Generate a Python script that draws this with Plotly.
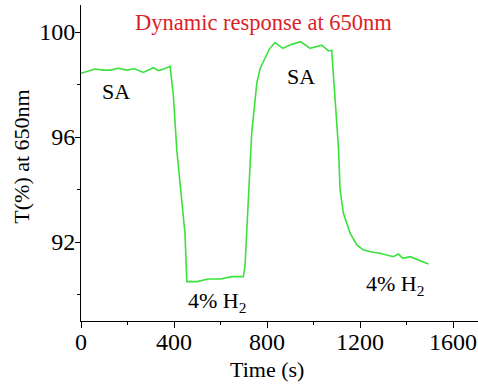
import plotly.graph_objects as go

time_s = [0, 30, 60, 95, 125, 160, 196, 230, 268, 311, 333, 360, 383, 397, 412, 433, 447, 455,
          500, 546, 600, 648, 698, 705, 720, 734, 756, 770, 791, 810, 834, 868, 906, 945, 985,
          1035, 1064, 1078, 1092, 1107, 1114, 1128, 1157, 1186, 1214, 1250, 1286, 1343, 1365,
          1384, 1415, 1444, 1494]
trans = [98.43, 98.50, 98.59, 98.55, 98.55, 98.62, 98.55, 98.60, 98.46, 98.64, 98.53, 98.60, 98.70,
         97.60, 95.50, 93.60, 92.34, 90.49,
         90.49, 90.59, 90.59, 90.68, 90.68, 91.06, 93.60, 96.15, 98.06, 98.60, 99.00, 99.35, 99.60,
         99.38, 99.53, 99.63, 99.38, 99.50, 99.28, 99.31, 97.50, 95.60, 94.00, 93.10, 92.34, 91.89,
         91.70, 91.62, 91.57, 91.44, 91.54, 91.38, 91.44, 91.34, 91.16]

label_text = ["SA", "SA", "4% H<sub>2</sub>", "4% H<sub>2</sub>"]
label_x = [150, 946, 585, 1348]
label_y = [97.75, 98.32, 89.72, 90.38]

FONT = "Liberation Serif, Times New Roman, serif"

fig = go.Figure()
fig.add_trace(go.Scatter(x=time_s, y=trans, mode="lines",
                         line=dict(color="rgb(60,225,60)", width=1.6),
                         showlegend=False, hoverinfo="skip"))

for t, x, y in zip(label_text, label_x, label_y):
    fig.add_annotation(x=x, y=y, text=t, showarrow=False, xref="x", yref="y",
                       xanchor="center", yanchor="middle",
                       font=dict(family=FONT, size=22, color="black"))

fig.add_annotation(x=0.459, y=0.946, xref="paper", yref="paper", text="Dynamic response at 650nm",
                   showarrow=False, font=dict(family=FONT, size=22.5, color="rgb(220,30,40)"),
                   yanchor="middle", xanchor="center")
fig.add_annotation(x=-0.1486, y=0.52, xref="paper", yref="paper", text="T(%) at 650nm",
                   textangle=-90, showarrow=False, xanchor="center", yanchor="middle",
                   font=dict(family=FONT, size=22, color="black"))
fig.add_annotation(x=0.469, y=-0.155, xref="paper", yref="paper", text="Time (s)",
                   showarrow=False, xanchor="center", yanchor="middle",
                   font=dict(family=FONT, size=22, color="black"))

fig.update_layout(
    width=478, height=392,
    margin=dict(l=81, r=0, t=5, b=71, autoexpand=False),
    plot_bgcolor="white", paper_bgcolor="white",
    font=dict(family=FONT, size=22, color="black"),
)
fig.update_xaxes(range=[0, 1707], tickvals=[0, 400, 800, 1200, 1600], showgrid=False,
                 zeroline=False, showline=True, linecolor="black", linewidth=1, automargin=False,
                 ticks="outside", ticklen=6, tickwidth=1, tickcolor="black",
                 ticklabelstandoff=-7,
                 minor=dict(tickvals=[200, 600, 1000, 1400], ticks="outside", ticklen=3,
                            tickcolor="black", tickwidth=1),
                 tickfont=dict(family=FONT, size=24))
fig.update_yaxes(range=[88.99, 101.03], tickvals=[92, 96, 100], showgrid=False,
                 zeroline=False, showline=True, linecolor="black", linewidth=1, automargin=False,
                 ticks="outside", ticklen=5, tickwidth=1, tickcolor="black",
                 ticklabelstandoff=-5,
                 minor=dict(tickvals=[90, 94, 98], ticks="outside", ticklen=3,
                            tickcolor="black", tickwidth=1),
                 tickfont=dict(family=FONT, size=24))

fig.write_html("out.html", config={"displayModeBar": False},
               post_script="document.body.style.margin='0';document.body.style.overflow='hidden';")
